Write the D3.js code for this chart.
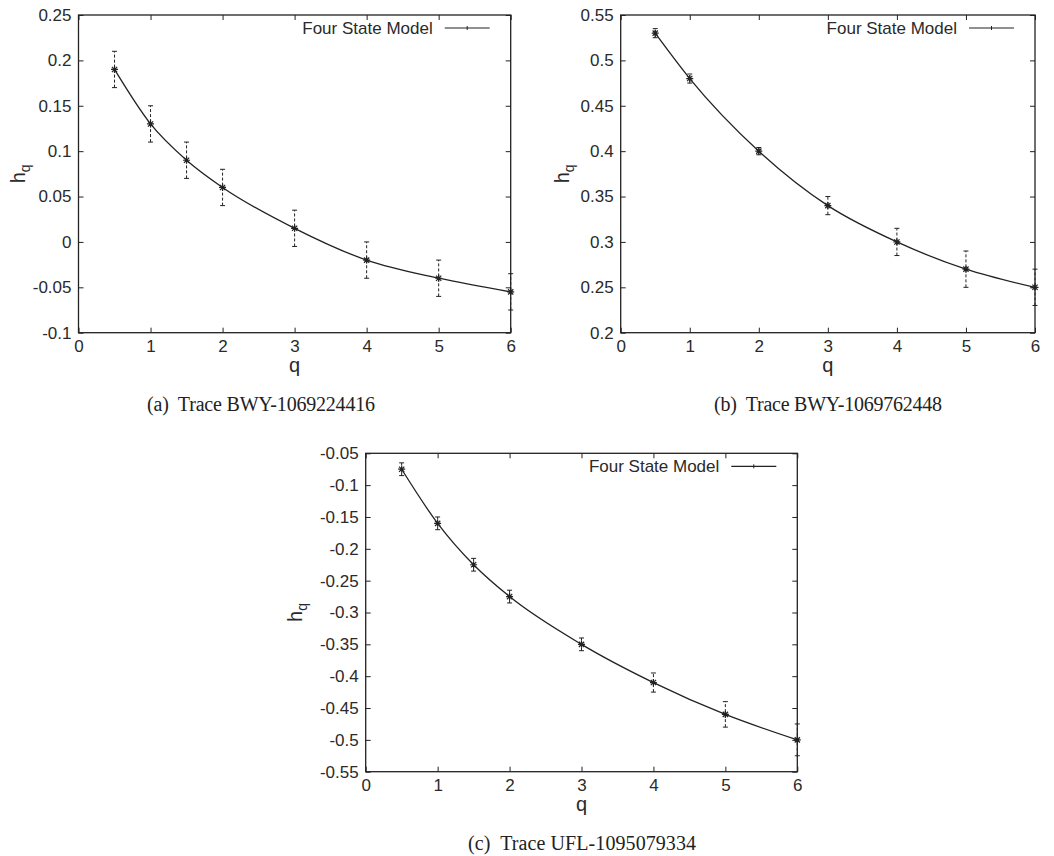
<!DOCTYPE html>
<html>
<head>
<meta charset="utf-8">
<script src="https://cdn.jsdelivr.net/npm/d3@7/dist/d3.min.js"></script>
<style>
  html, body { margin: 0; padding: 0; background: #fff; }
  svg { display: block; }
  .tick-label { font-family: "Liberation Sans", Arial, sans-serif; font-size: 17px; fill: #2a2a2a; }
  .axis-label { font-family: "Liberation Sans", Arial, sans-serif; font-size: 20px; fill: #2a2a2a; }
  .legend-text { font-family: "Liberation Sans", Arial, sans-serif; font-size: 17px; fill: #2a2a2a; }
  .caption { font-family: "Liberation Serif", "DejaVu Serif", serif; font-size: 20px; fill: #222; white-space: pre; }
</style>
</head>
<body>
<svg id="fig" width="1054" height="856"></svg>
<script>
// Generalized Hurst exponent h_q versus moment order q, three traces
const legendLabel = "Four State Model";

const qA = [0.5, 1, 1.5, 2, 3, 4, 5, 6];
const hA = [0.19, 0.13, 0.09, 0.06, 0.015, -0.02, -0.04, -0.055];
const errA = [0.02, 0.02, 0.02, 0.02, 0.02, 0.02, 0.02, 0.02];
const yTicksA = [-0.1, -0.05, 0, 0.05, 0.1, 0.15, 0.2, 0.25];
const yTickLabelsA = ["-0.1", "-0.05", "0", "0.05", "0.1", "0.15", "0.2", "0.25"];

const qB = [0.5, 1, 2, 3, 4, 5, 6];
const hB = [0.53, 0.48, 0.40, 0.34, 0.30, 0.27, 0.25];
const errB = [0.005, 0.005, 0.004, 0.01, 0.015, 0.02, 0.02];
const yTicksB = [0.2, 0.25, 0.3, 0.35, 0.4, 0.45, 0.5, 0.55];
const yTickLabelsB = ["0.2", "0.25", "0.3", "0.35", "0.4", "0.45", "0.5", "0.55"];

const qC = [0.5, 1, 1.5, 2, 3, 4, 5, 6];
const hC = [-0.075, -0.16, -0.225, -0.275, -0.35, -0.41, -0.46, -0.50];
const errC = [0.01, 0.01, 0.01, 0.01, 0.01, 0.015, 0.02, 0.025];
const yTicksC = [-0.55, -0.5, -0.45, -0.4, -0.35, -0.3, -0.25, -0.2, -0.15, -0.1, -0.05];
const yTickLabelsC = ["-0.55", "-0.5", "-0.45", "-0.4", "-0.35", "-0.3", "-0.25", "-0.2", "-0.15", "-0.1", "-0.05"];

const xTicks = [0, 1, 2, 3, 4, 5, 6];
const captions = ["(a)  Trace BWY-1069224416", "(b)  Trace BWY-1069762448", "(c)  Trace UFL-1095079334"];

const panels = [
  { q: qA, h: hA, err: errA, yTicks: yTicksA, yLabels: yTickLabelsA, caption: captions[0],
    box: { x0: 78.5, x1: 510.7, y0: 15, y1: 332.7 }, ylabX: 18, capX: 261, capY: 411 },
  { q: qB, h: hB, err: errB, yTicks: yTicksB, yLabels: yTickLabelsB, caption: captions[1],
    box: { x0: 620.7, x1: 1035, y0: 15, y1: 332.7 }, ylabX: 562, capX: 828, capY: 411 },
  { q: qC, h: hC, err: errC, yTicks: yTicksC, yLabels: yTickLabelsC, caption: captions[2],
    box: { x0: 365.7, x1: 797.3, y0: 453.3, y1: 771.7 }, ylabX: 295, capX: 582, capY: 850 }
];

const svg = d3.select("#fig");
const TICK = 5;
const CAPTION_WIDTH = 228;

function starPath(x, y, r) {
  const d = r * 0.75;
  return `M${x - r},${y}L${x + r},${y}M${x},${y - r}L${x},${y + r}` +
         `M${x - d},${y - d}L${x + d},${y + d}M${x - d},${y + d}L${x + d},${y - d}`;
}

panels.forEach(p => {
  const b = p.box;
  const yExt = d3.extent(p.yTicks);
  const x = d3.scaleLinear().domain([0, 6]).range([b.x0, b.x1]);
  const y = d3.scaleLinear().domain(yExt).range([b.y1, b.y0]);
  const g = svg.append("g");

  // axes: bottom/left with labels, mirrored inward ticks on top/right
  const axB = g.append("g").attr("transform", `translate(0,${b.y1})`)
    .call(d3.axisBottom(x).tickValues(xTicks).tickSize(-TICK).tickPadding(7).tickFormat(d3.format("d")));
  const axT = g.append("g").attr("transform", `translate(0,${b.y0})`)
    .call(d3.axisTop(x).tickValues(xTicks).tickSize(-TICK).tickFormat(""));
  const axL = g.append("g").attr("transform", `translate(${b.x0},0)`)
    .call(d3.axisLeft(y).tickValues(p.yTicks).tickSize(-TICK).tickPadding(7)
      .tickFormat((d, i) => p.yLabels[i]));
  const axR = g.append("g").attr("transform", `translate(${b.x1},0)`)
    .call(d3.axisRight(y).tickValues(p.yTicks).tickSize(-TICK).tickFormat(""));
  [axB, axT, axL, axR].forEach(a => {
    a.select(".domain").remove();
    a.selectAll(".tick line").attr("stroke", "#222").attr("stroke-width", 1);
    a.selectAll(".tick text").attr("class", "tick-label").attr("font-size", null).attr("font-family", null);
  });
  axB.selectAll(".tick text").attr("dy", "0.71em");

  g.append("rect")
    .attr("x", b.x0).attr("y", b.y0)
    .attr("width", b.x1 - b.x0).attr("height", b.y1 - b.y0)
    .attr("fill", "none").attr("stroke", "#222").attr("stroke-width", 1.3);

  const pts = p.q.map((q, i) => ({ q, h: p.h[i], e: p.err[i] }));

  // error bars: dashed stems with caps
  const eb = g.append("g").attr("stroke", "#222").attr("stroke-width", 1);
  eb.selectAll("line.stem").data(pts).join("line").attr("class", "stem")
    .attr("x1", d => x(d.q)).attr("x2", d => x(d.q))
    .attr("y1", d => y(d.h - d.e)).attr("y2", d => y(d.h + d.e))
    .attr("stroke-dasharray", "3,2");
  eb.selectAll("line.capT").data(pts).join("line").attr("class", "capT")
    .attr("x1", d => x(d.q) - 2.5).attr("x2", d => x(d.q) + 2.5)
    .attr("y1", d => y(d.h + d.e)).attr("y2", d => y(d.h + d.e));
  eb.selectAll("line.capB").data(pts).join("line").attr("class", "capB")
    .attr("x1", d => x(d.q) - 2.5).attr("x2", d => x(d.q) + 2.5)
    .attr("y1", d => y(d.h - d.e)).attr("y2", d => y(d.h - d.e));

  // smooth curve through the estimates
  const line = d3.line().x(d => x(d.q)).y(d => y(d.h)).curve(d3.curveMonotoneX);
  g.append("path").datum(pts).attr("d", line)
    .attr("fill", "none").attr("stroke", "#222").attr("stroke-width", 1.3);

  // star markers
  g.append("g").selectAll("path").data(pts).join("path")
    .attr("d", d => starPath(x(d.q), y(d.h), 3.5))
    .attr("stroke", "#222").attr("stroke-width", 1.2).attr("fill", "none");

  // legend
  const ly = b.y0 + 13;
  g.append("text").attr("class", "legend-text")
    .attr("x", b.x1 - 78).attr("y", ly).attr("dy", "0.35em")
    .attr("text-anchor", "end").text(legendLabel);
  g.append("line").attr("x1", b.x1 - 66).attr("x2", b.x1 - 21)
    .attr("y1", ly).attr("y2", ly).attr("stroke", "#222").attr("stroke-width", 1.2);
  g.append("line").attr("x1", b.x1 - 43.5).attr("x2", b.x1 - 43.5)
    .attr("y1", ly - 2).attr("y2", ly + 2).attr("stroke", "#222").attr("stroke-width", 1);

  // axis titles
  g.append("text").attr("class", "axis-label")
    .attr("x", (b.x0 + b.x1) / 2).attr("y", b.y1 + 39)
    .attr("text-anchor", "middle").text("q");
  const yl = g.append("text").attr("class", "axis-label")
    .attr("transform", `translate(${p.ylabX + 7},${(b.y0 + b.y1) / 2}) rotate(-90)`)
    .attr("text-anchor", "middle");
  yl.append("tspan").text("h");
  yl.append("tspan").attr("font-size", "14px").attr("dy", "5").text("q");

  // caption
  g.append("text").attr("class", "caption")
    .attr("x", p.capX - CAPTION_WIDTH / 2).attr("y", p.capY)
    .attr("textLength", CAPTION_WIDTH).attr("lengthAdjust", "spacing")
    .text(p.caption);
});
</script>
</body>
</html>
